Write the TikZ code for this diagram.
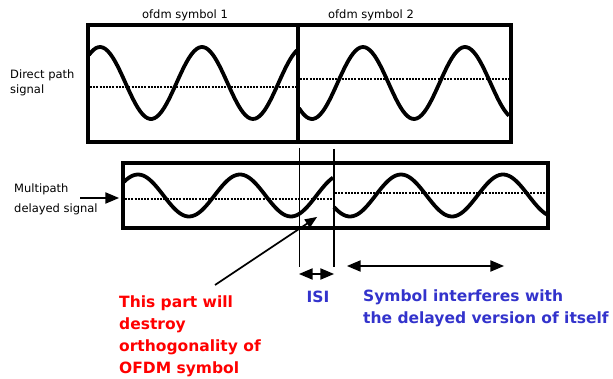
\documentclass[tikz,border=0pt]{standalone}
\usepackage{fontspec}
\setmainfont{DejaVu Sans}
\usetikzlibrary{arrows}
\definecolor{isiblue}{RGB}{51,51,204}
\definecolor{partred}{RGB}{255,0,0}

\begin{document}
\begin{tikzpicture}[x=1pt,y=-1pt,>=triangle 45,
		frame/.style={line width=3.5pt},
		wave/.style={line width=3.8pt,line join=round,smooth,samples=90},
		level/.style={line width=2pt,dash pattern=on 2pt off 1.2pt},
		lbl/.style={font=\fontsize{11.5}{15}\selectfont,inner sep=0pt,align=left},
		note/.style={font=\bfseries\fontsize{15.5}{21.7}\selectfont,inner sep=0pt,align=left}]
			\useasboundingbox[fill=white](0,0) rectangle (613,379);
			\node[lbl] (sym1) at (185,15) {ofdm symbol 1};
			\node[lbl] (sym2) at (371,15) {ofdm symbol 2};
			\node[lbl,anchor=west] (direct) at (10,82.5) {Direct path\\signal};
			\node[lbl,anchor=west,font=\fontsize{11.5}{20}\selectfont] (multi) at (14,199) {Multipath\\delayed signal};
			\draw[frame](88,25) rectangle (298,142);
			\draw[frame](298,25) rectangle (511,142);
			\draw[frame](123,163) rectangle (548,228);
			\draw[level](90,87) -- (296,87);
			\draw[level](300,79) -- (509,79);
			\draw[level](125,199) -- (333,199);
			\draw[level](335,193) -- (546,193);
			\draw[wave,domain=89:297] plot (\x,{83-36*cos(3.5294*(\x-100))});
			\draw[wave,domain=299:509] plot (\x,{83+36*cos(3.5294*(\x-312))});
			\draw[wave,domain=124:333] plot (\x,{195.5-21*cos(3.5294*(\x-138))});
			\draw[wave,domain=334:547] plot (\x,{195.5+21*cos(3.5294*(\x-350))});
			\coordinate (cut1top) at (299,148);
			\coordinate (cut1bot) at (299,267);
			\coordinate (cut2top) at (334,149);
			\coordinate (cut2bot) at (334,267);
			\draw[line width=1pt](cut1top) -- (cut1bot);
			\draw[line width=2.5pt](cut2top) -- (cut2bot);
			\coordinate (mpfrom) at (80,198);
			\coordinate (mpto) at (119,198);
			\draw[->,line width=2.2pt](mpfrom) -- (mpto);
			\coordinate (isiL) at (299,274);
			\coordinate (isiR) at (334,274);
			\draw[<->,line width=2.2pt](isiL) -- (isiR);
			\coordinate (selfL) at (347,266);
			\coordinate (selfR) at (504,266);
			\draw[<->,line width=2.2pt](selfL) -- (selfR);
			\node[note,text=partred,anchor=north west] (part) at (119,296) {This part will\\destroy\\orthogonality of\\OFDM symbol};
			\node[note,text=isiblue,anchor=base] (isi) at (318,303) {ISI};
			\node[note,text=isiblue,anchor=north west] (self) at (363,290) {Symbol interferes with\\the delayed version of itself};
			\coordinate (partfrom) at (215,285);
			\coordinate (parttip) at (317,217);
			\draw[->,line width=1.8pt](partfrom) -- (parttip);
		\end{tikzpicture}
\end{document}
